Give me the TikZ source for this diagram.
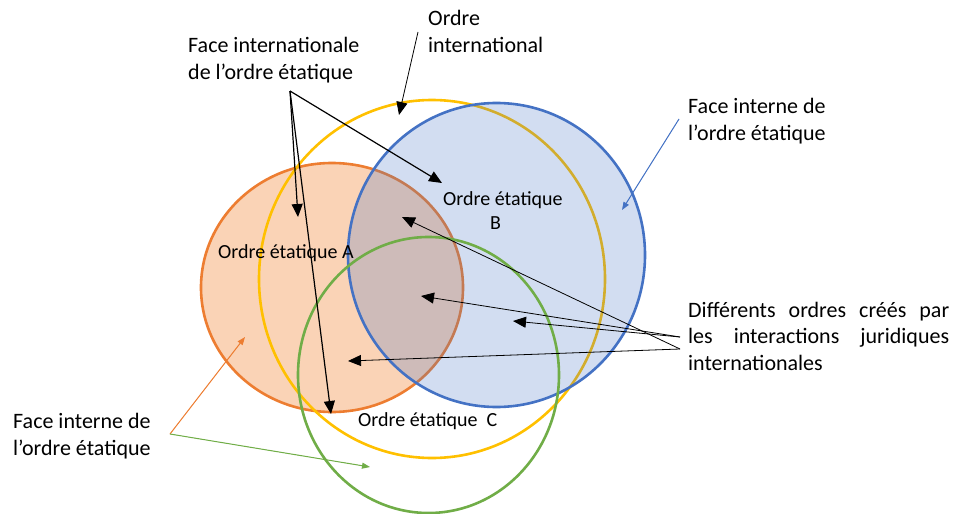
\documentclass[tikz,border=0pt]{standalone}
\usepackage{fontspec}
\setmainfont{Carlito}
\usetikzlibrary{arrows.meta}
\definecolor{cOrange}{HTML}{ED7D31}
\definecolor{cOrangeFill}{HTML}{FAD3B6}
\definecolor{cBlue}{HTML}{4472C4}
\definecolor{cYellow}{HTML}{FFC000}
\definecolor{cGreen}{HTML}{70AD47}
\begin{document}
\begin{tikzpicture}[x=1pt,y=-1pt,
  outer/.style={font=\fontsize{22}{26.8}\selectfont, inner sep=0pt, anchor=base west, align=left},
  inner/.style={font=\fontsize{20}{23.5}\selectfont, inner sep=0pt, anchor=base west, align=left},
  ring/.style={line width=2.6pt},
  blk/.style={draw=black, line width=1.2pt, -{Triangle[length=13pt,width=11pt]}},
  thin/.style={draw=black, line width=0.8pt, -{Triangle[length=13pt,width=11pt]}},
  col/.style={line width=1pt, -{Triangle[length=8pt,width=6pt]}}]
\useasboundingbox (0,0) rectangle (956,514);
% circles
\draw[ring, draw=cOrange, fill=cOrangeFill] (332,287.5) ellipse [x radius=131, y radius=124.5];
\draw[ring, draw=cYellow] (432,279) ellipse [x radius=173, y radius=179];
\draw[ring, draw=cBlue, fill=cBlue, fill opacity=0.24] (496.5,255) ellipse [x radius=148.5, y radius=152];
\draw[ring, draw=cGreen] (428.5,375) ellipse [x radius=130.5, y radius=138];
% labels (base anchor = baseline of last line)
\node[outer] (oi) at (428,52) {Ordre\\international};
\node[outer] (fi) at (188,79) {Face internationale\\de l’ordre étatique};
\node[outer] (fr) at (688,140) {Face interne de\\l’ordre étatique};
\node[outer] (fl) at (13,455) {Face interne de\\l’ordre étatique};
\node[outer, text width=261pt, align=justify] (df) at (688,317) {Différents ordres créés par\linebreak les interactions juridiques\linebreak internationales};
\node[inner] (la) at (218,258) {Ordre étatique A};
\node[inner] (lb) at (443,229) {Ordre étatique\\\hspace*{47pt}B};
\node[inner] (lc) at (358,426) {Ordre étatique~~C};
% connector coordinates
\coordinate (oiS) at (418,32);
\coordinate (oiT) at (399,115);
\coordinate (fiS) at (290,91);
\coordinate (fiB) at (442,183);
\coordinate (fiA) at (298,217);
\coordinate (fiC) at (331,414);
\coordinate (dfS1) at (680,337);
\coordinate (dfS2) at (680,349);
\coordinate (tAB) at (402,217);
\coordinate (tABC) at (421,296);
\coordinate (tBC) at (513,321);
\coordinate (tAC) at (348,361);
\coordinate (frS) at (679,119);
\coordinate (frT) at (622,210);
\coordinate (flS) at (170,434);
\coordinate (flA) at (245,337);
\coordinate (flC) at (370,467);
% arrows
\draw[thin] (oiS) -- (oiT);
\draw[blk] (fiS) -- (fiB);
\draw[blk] (fiS) -- (fiA);
\draw[blk] (fiS) -- (fiC);
\draw[thin] (dfS2) -- (tAB);
\draw[thin] (dfS1) -- (tABC);
\draw[thin] (dfS1) -- (tBC);
\draw[thin] (dfS2) -- (tAC);
\draw[col, draw=cBlue, fill=cBlue] (frS) -- (frT);
\draw[col, draw=cOrange, fill=cOrange] (flS) -- (flA);
\draw[col, draw=cGreen, fill=cGreen] (flS) -- (flC);
\end{tikzpicture}
\end{document}
